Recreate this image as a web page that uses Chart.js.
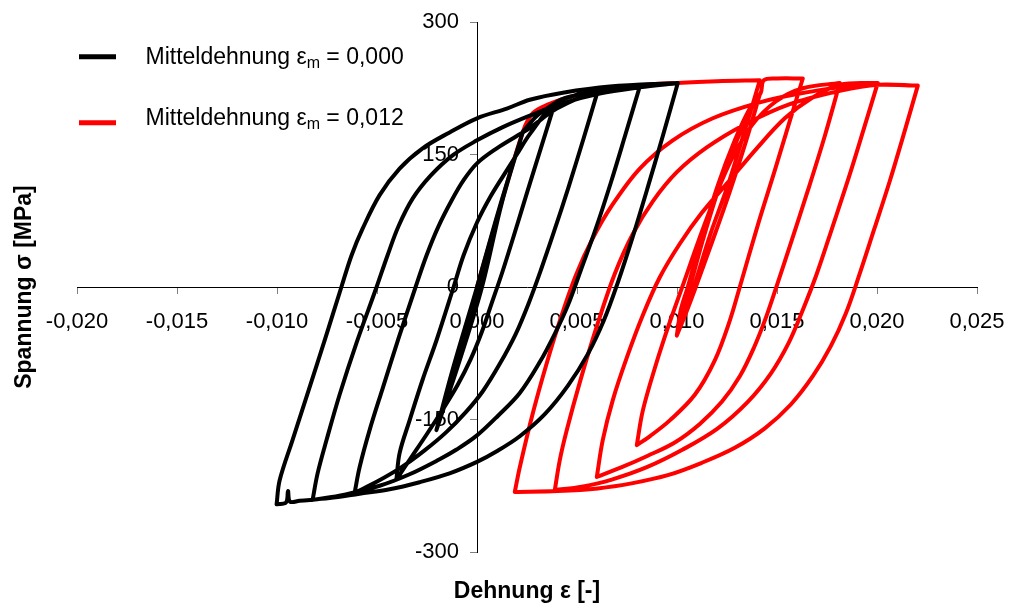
<!DOCTYPE html>
<html><head><meta charset="utf-8">
<script src="https://cdn.jsdelivr.net/npm/chart.js@4.4.1/dist/chart.umd.min.js"></script>
<style>html,body{margin:0;padding:0;background:#fff;}#wrap{width:1009px;height:613px;}</style>
</head><body><div id="wrap"><canvas id="c" width="1009" height="613"></canvas></div>
<script>
// ---------- labels ----------
const seriesNames = ['Mitteldehnung \u03b5m = 0,000', 'Mitteldehnung \u03b5m = 0,012'];
const legendMain = 'Mitteldehnung \u03b5';
const legendSub = 'm';
const legendValues = ['0,000', '0,012'];
const xTitle = 'Dehnung \u03b5 [-]';
const yTitle = 'Spannung \u03c3 [MPa]';
const xTickLabels = ['-0,020','-0,015','-0,010','-0,005','0,000','0,005','0,010','0,015','0,020','0,025'];
const yTickLabels = ['-300','-150','0','150','300'];

// ---------- black series (mean strain 0,000): [strain, stress] ----------
const bInit = [[0,0],[0.0011,88],[0.0023,176]];
const bSmallDown1 = [[0.0023,176],[0.0012,94],[0.0002,0],[-0.0009,-84],[-0.00203,-162]];
const bSmallUp1 = [[-0.00203,-162],[-0.0012,-92],[0.0000,0],[0.0011,88],[0.0023,176]];
const bSmallDown2 = [[0.0023,176],[0.00125,96],[0.00025,0],[-0.00085,-82],[-0.00203,-162]];
const bSmallUp2 = [[-0.00203,-162],[-0.00115,-90],[0.00005,0],[0.00115,90],[0.0023,176]];
const bToTip4 = [[0.0023,176],[0.0030,194],[0.00389,208]];
const bDesc4 = [[0.00389,208],[0.00319,157],[0.00249,106],[0.00184,58],[0.00124,15],[0.00074,-18],[0.00024,-51],[-0.00032,-82],[-0.00097,-111],[-0.00172,-139],[-0.00252,-167],[-0.00332,-194],[-0.00403,-218]];
const bAsc4 = [[-0.00403,-218],[-0.00387,-188],[-0.00337,-151],[-0.00272,-105],[-0.00202,-60],[-0.00117,0],[-0.00067,36],[0,73],[0.00064,101],[0.00129,125],[0.00199,150],[0.00264,173],[0.00389,208],[0.00489,217],[0.00604,222]];
const bDesc6 = [[0.00604,222],[0.00534,169],[0.00459,114],[0.00384,62],[0.00319,19],[0.00259,-18],[0.00194,-53],[0.00114,-87],[0.00029,-118],[-0.00057,-142],[-0.00152,-164],[-0.00262,-185],[-0.00377,-204],[-0.00497,-220],[-0.00612,-233]];
const bAsc6 = [[-0.00612,-233],[-0.00587,-204],[-0.00537,-162],[-0.00472,-115],[-0.00392,-58],[-0.00307,0],[-0.00252,36],[-0.00192,69],[-0.00127,98],[-0.00067,121],[0,140],[0.00099,157],[0.00199,171],[0.00264,180],[0.00399,202],[0.00604,222],[0.00714,226],[0.00814,227]];
const bDesc8 = [[0.00814,227],[0.00744,174],[0.00669,118],[0.00594,66],[0.00519,19],[0.00454,-21],[0.00389,-53],[0.00314,-85],[0.00214,-120],[0.00104,-146],[0,-168],[-0.00102,-184],[-0.00187,-195],[-0.00337,-212],[-0.00487,-225],[-0.00662,-235],[-0.00822,-241]];
const bAsc8 = [[-0.00822,-241],[-0.00797,-211],[-0.00752,-173],[-0.00687,-122],[-0.00602,-63],[-0.00502,0],[-0.00447,36],[-0.00392,69],[-0.00322,100],[-0.00232,126],[-0.00122,149],[0,166],[0.00129,181],[0.00264,194],[0.00429,208],[0.00614,219],[0.00814,226],[0.01004,231]];
const bDesc10 = [[0.01004,231],[0.00929,171],[0.00854,113],[0.00779,57],[0.00704,5],[0.00634,-38],[0.00554,-76],[0.00454,-112],[0.00339,-144],[0.00214,-169],[0.00099,-186],[0,-198],[-0.00137,-211],[-0.00287,-221],[-0.00437,-229],[-0.00587,-234],[-0.00737,-239],[-0.00887,-242],[-0.00935,-243],[-0.00945,-231],[-0.00955,-244],[-0.01002,-246]];
const bAsc10 = [[-0.01002,-246],[-0.00987,-219],[-0.00922,-173],[-0.00842,-117],[-0.00757,-57],[-0.00678,0],[-0.00627,36],[-0.00572,66],[-0.00487,104],[-0.00387,134],[-0.00272,157],[-0.00137,175],[0,191],[0.00149,202],[0.00264,212],[0.00429,220],[0.00664,227],[0.01004,231]];

// ---------- red series (mean strain 0,012): [strain, stress] ----------
const rInit = [[0,0],[0.0011,86],[0.0023,176],[0.0028,197],[0.0036,207],[0.0046,215],[0.006,222],[0.008,228],[0.010,231],[0.012,233],[0.01414,234]];
const rSmallDown1 = [[0.01414,234],[0.01339,177],[0.01254,115],[0.01164,58],[0.01084,0],[0.01039,-29],[0.00999,-55]];
const rSmallUp1 = [[0.00999,-55],[0.01019,-26],[0.01054,0],[0.01119,53],[0.01204,115],[0.01289,166],[0.01364,202],[0.01414,218]];
const rSmallDown2 = [[0.01414,218],[0.01349,168],[0.01264,108],[0.01174,50],[0.01094,0],[0.01044,-30],[0.00999,-55]];
const rSmallUp2 = [[0.00999,-55],[0.01024,-26],[0.01064,0],[0.01129,53],[0.01214,115],[0.01299,166],[0.01374,203],[0.01419,220],[0.01434,234],[0.0150,236],[0.01629,236]];
const rDesc16 = [[0.01629,236],[0.01564,188],[0.01489,132],[0.01404,70],[0.01314,0],[0.01264,-38],[0.01189,-83],[0.01089,-122],[0.00964,-151],[0.00864,-169],[0.00799,-179]];
const rAsc8 = [[0.00799,-179],[0.00829,-140],[0.00889,-92],[0.00959,-43],[0.01034,5],[0.01109,53],[0.01189,101],[0.01274,145],[0.01374,183],[0.01494,210],[0.01629,225],[0.01814,231]];
const rDesc18 = [[0.01814,231],[0.01739,171],[0.01654,109],[0.01574,53],[0.01504,5],[0.01444,-35],[0.01384,-69],[0.01314,-101],[0.01224,-130],[0.01114,-155],[0.00989,-176],[0.00854,-191],[0.00724,-204],[0.00599,-215]];
const rAsc6 = [[0.00599,-215],[0.00629,-173],[0.00679,-128],[0.00749,-80],[0.00829,-32],[0.00914,11],[0.01014,49],[0.01124,84],[0.01249,117],[0.01399,157],[0.01539,191],[0.01674,214],[0.01814,229],[0.02004,231]];
const rDesc20 = [[0.02004,231],[0.01934,179],[0.01859,124],[0.01779,69],[0.01699,15],[0.01629,-26],[0.01559,-63],[0.01469,-98],[0.01354,-130],[0.01204,-160],[0.01029,-184],[0.00849,-204],[0.00674,-218],[0.00524,-226],[0.00389,-230]];
const rAsc4 = [[0.00389,-230],[0.00414,-196],[0.00449,-162],[0.00514,-108],[0.00604,-41],[0.00689,15],[0.00779,60],[0.00879,97],[0.00999,130],[0.01149,158],[0.01339,184],[0.01564,207],[0.01814,222],[0.02004,229],[0.02204,228]];
const rDesc22 = [[0.02204,228],[0.02139,177],[0.02064,120],[0.01984,64],[0.01909,12],[0.01844,-30],[0.01769,-67],[0.01679,-101],[0.01569,-133],[0.01439,-160],[0.01289,-182],[0.01124,-199],[0.00954,-213],[0.00779,-222],[0.00604,-228],[0.00404,-231],[0.00189,-232]];
const rAsc2 = [[0.00189,-232],[0.00214,-204],[0.00279,-143],[0.00349,-86],[0.00419,-35],[0.00494,13],[0.00574,53],[0.00674,92],[0.00814,134],[0.00979,166],[0.01179,191],[0.01414,209],[0.01614,219],[0.01814,226],[0.02014,229],[0.02204,228]];

const blackPath = [].concat(bInit, bSmallDown1, bSmallUp1, bSmallDown2, bSmallUp2, bToTip4,
  bDesc4, bAsc4, bDesc6, bAsc6, bDesc8, bAsc8, bDesc10, bAsc10);
const redPath = [].concat(rInit, rSmallDown1, rSmallUp1, rSmallDown2, rSmallUp2,
  rDesc16, rAsc8, rDesc18, rAsc6, rDesc20, rAsc4, rDesc22, rAsc2);

const seriesColors = ['#000000', '#ff0000'];
const FONT = '"Liberation Sans", Arial, Helvetica, sans-serif';

const labelPlacer = {
  id: 'labelPlacer',
  beforeDraw(chart) {
    const axisX = chart.scales.x.getPixelForValue(0);
    const axisY = chart.scales.y.getPixelForValue(0);
    chart.scales.y.getLabelItems().forEach(it => {
      it.options.translation[0] = axisX - 18;
      it.options.textAlign = 'right';
    });
    chart.scales.x.getLabelItems().forEach(it => {
      it.options.translation[1] = axisY + 22;
    });
  }
};

const decorations = {
  id: 'decorations',
  afterDraw(chart) {
    const ctx = chart.ctx;
    ctx.save();
    const rows = [{line: 56.7, base: 64}, {line: 122.7, base: 125}];
    legendValues.forEach((v, i) => {
      ctx.strokeStyle = seriesColors[i];
      ctx.lineWidth = 5;
      ctx.lineCap = 'butt';
      ctx.beginPath(); ctx.moveTo(79, rows[i].line); ctx.lineTo(116, rows[i].line); ctx.stroke();
      ctx.fillStyle = '#000';
      ctx.textBaseline = 'alphabetic';
      ctx.textAlign = 'left';
      let x = 145.5;
      ctx.font = '23px ' + FONT;
      ctx.fillText(legendMain, x, rows[i].base);
      x += ctx.measureText(legendMain).width;
      ctx.font = '16px ' + FONT;
      ctx.fillText(legendSub, x, rows[i].base + 4);
      x += ctx.measureText(legendSub).width;
      ctx.font = '23px ' + FONT;
      ctx.fillText(' = ' + v, x, rows[i].base);
    });
    ctx.font = 'bold 23px ' + FONT;
    ctx.textAlign = 'center';
    ctx.textBaseline = 'middle';
    ctx.fillText(xTitle, 527, 592);
    ctx.translate(25, 287);
    ctx.rotate(-Math.PI / 2);
    ctx.fillText(yTitle, 0, 0);
    ctx.restore();
  }
};

new Chart(document.getElementById('c'), {
  type: 'scatter',
  data: {
    datasets: [
      {label: seriesNames[0], data: blackPath, showLine: true, borderColor: seriesColors[0], borderWidth: 4,
       pointRadius: 0, tension: 0.35, borderJoinStyle: 'round', borderCapStyle: 'round'},
      {label: seriesNames[1], data: redPath, showLine: true, borderColor: seriesColors[1], borderWidth: 4,
       pointRadius: 0, tension: 0.35, borderJoinStyle: 'round', borderCapStyle: 'round'}
    ]
  },
  options: {
    responsive: false,
    animation: false,
    devicePixelRatio: 1,
    layout: {padding: {left: 77, right: 32, top: 22, bottom: 61}},
    plugins: {legend: {display: false}, tooltip: {enabled: false}},
    scales: {
      x: {
        type: 'linear', min: -0.02, max: 0.025, position: {y: 0},
        ticks: {stepSize: 0.005, autoSkip: false, maxRotation: 0, padding: 2, color: '#000',
          font: {family: FONT, size: 22},
          callback: (v) => xTickLabels[Math.round((v + 0.02) / 0.005)]},
        grid: {drawOnChartArea: false, drawTicks: true, tickLength: 6, color: '#808080'},
        border: {display: true, color: '#000', width: 1}
      },
      y: {
        type: 'linear', min: -300, max: 300, position: {x: 0},
        ticks: {stepSize: 150, autoSkip: false, padding: 2, color: '#000', font: {family: FONT, size: 22},
          callback: (v) => yTickLabels[Math.round((v + 300) / 150)]},
        grid: {drawOnChartArea: false, drawTicks: true, tickLength: 7, color: '#808080'},
        border: {display: true, color: '#000', width: 1}
      }
    }
  },
  plugins: [labelPlacer, decorations]
});
</script></body></html>
